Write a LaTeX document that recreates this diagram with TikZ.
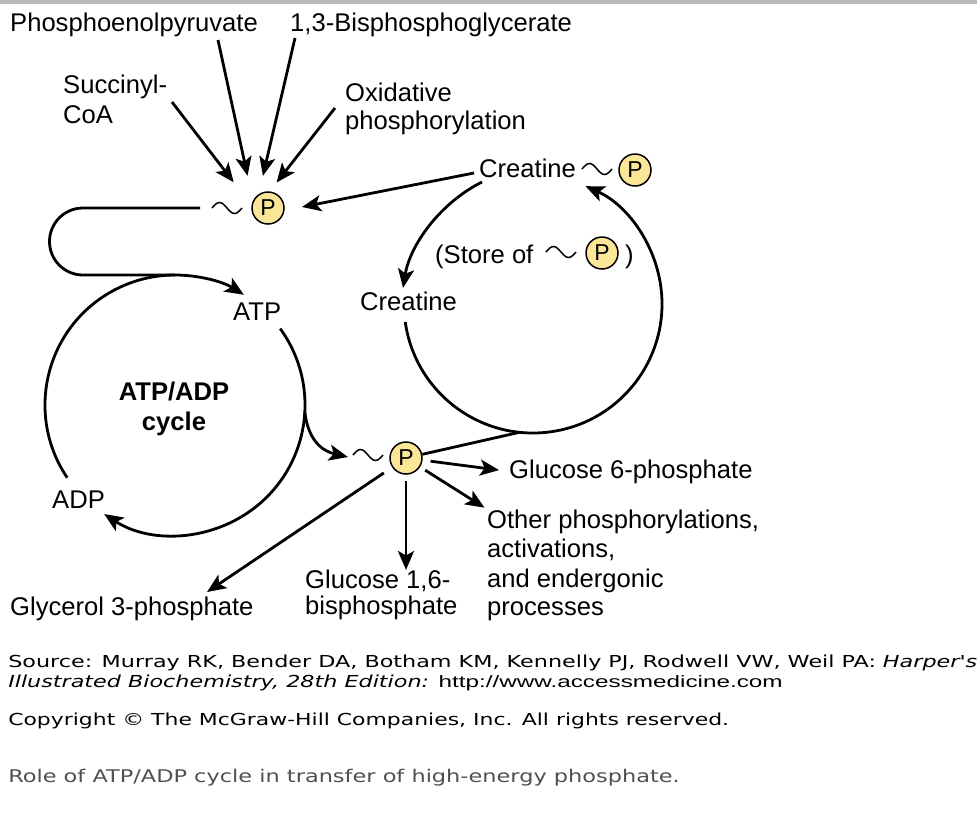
\documentclass[tikz,border=0pt]{standalone}
\usepackage{fontspec}
\setmainfont{Liberation Sans}
\newfontfamily\vfont{DejaVu Sans}
\usetikzlibrary{arrows.meta,calc}
\definecolor{pyel}{RGB}{250,230,150}
\definecolor{capgray}{RGB}{80,80,80}
\begin{document}
\begin{tikzpicture}[x=1pt,y=-1pt,
  lbl/.style={font=\fontsize{25.6}{30}\selectfont, inner sep=0pt, anchor=base west},
  lblc/.style={font=\fontsize{25.6}{30}\selectfont\bfseries, inner sep=0pt, anchor=base},
  ln/.style={line width=2.8pt},
  arr/.style={ln, -{Stealth[length=19pt,width=16pt,inset=4.5pt]}},
  pc/.style={circle, draw, line width=1.5pt, fill=pyel, minimum size=32pt, inner sep=0pt, font=\fontsize{23}{23}\selectfont},
  tld/.pic={\draw[line width=1.5pt] (-15,0) sin (-7.5,-5.5) cos (0,0) sin (7.5,5.5) cos (15,0);
            \coordinate (w) at (-15,0); \coordinate (e) at (15,0);},
  foot/.style={font=\vfont\fontsize{16.5}{18}\selectfont, inner sep=0pt, anchor=base west, xscale=1.35}
]
\useasboundingbox (0,0) rectangle (977,815);
\fill[gray!55] (0,0) rectangle (977,4);

% ---------------- labels ----------------
\node[lbl] (pep) at (10,31) {Phosphoenolpyruvate};
\node[lbl] (bpg) at (290,31) {1,3-Bisphosphoglycerate};
\node[lbl] (suc1) at (63,93) {Succinyl-};
\node[lbl] (suc2) at (63,123) {CoA};
\node[lbl] (ox1) at (345,101) {Oxidative};
\node[lbl] (ox2) at (345,129) {phosphorylation};

% top ~P
\pic (t1) at (227,208) {tld};
\node[pc] (P1) at (268,208) {P};
\coordinate (hub1) at (255,210);

% creatine ~ P
\node[lbl] (cr1) at (479,177) {Creatine};
\pic (t2) at (597,169) {tld};
\node[pc] (P2) at (635,170) {P};

% store of ~P
\node[lbl] (st) at (435,263) {(Store of};
\pic (t3) at (561,252) {tld};
\node[pc] (P4) at (602,253) {P};
\node[lbl] (stc) at (625,263) {)};

\node[lbl] (cr2) at (360,310) {Creatine};

% ATP / ADP
\node[lbl] (atp) at (233,320) {ATP};
\node[lbl] (adp) at (52,508) {ADP};
\node[lblc] (cyc1) at (174,400) {ATP/ADP};
\node[lblc] (cyc2) at (174,430) {cycle};

% lower ~P
\pic (t4) at (368,455) {tld};
\node[pc] (P3) at (406,458) {P};

\node[lbl] (g6p) at (509,478) {Glucose 6-phosphate};
\node[lbl] (oth1) at (487,528) {Other phosphorylations,};
\node[lbl] (oth2) at (487,557) {activations,};
\node[lbl] (oth3) at (487,587) {and endergonic};
\node[lbl] (oth4) at (487,615) {processes};
\node[lbl] (g16a) at (305,588) {Glucose 1,6-};
\node[lbl] (g16b) at (305,614) {bisphosphate};
\node[lbl] (gly) at (10,615) {Glycerol 3-phosphate};

% ---------------- arrows into top ~P ----------------
\coordinate (pepT) at (218,40);
\coordinate (bpgT) at (295,38);
\coordinate (sucT) at (172,102);
\coordinate (oxT) at (335,108);
\draw[arr, shorten >=35pt] (pepT) -- (hub1);
\draw[arr, shorten >=35pt] (bpgT) -- (hub1);
\draw[arr, shorten >=35pt] (sucT) -- (hub1);
\draw[arr, shorten >=35pt] (oxT) -- (hub1);

% creatine~P -> top ~P
\coordinate (crT) at (474,173);
\coordinate (p1tip) at (302,207);
\draw[arr] (crT) -- (p1tip);

% creatine~P -> creatine
\coordinate (crT2) at (482,182);
\coordinate (cr2tip) at (403,288);
\draw[arr] (crT2) .. controls (440,203) and (410,245) .. (cr2tip);

% creatine cycle circle
\coordinate (cc) at (533,304);
\draw[arr] (cc) ++(172:129) arc[start angle=172, end angle=-66, radius=129];
\coordinate (cbot) at ($(cc)+(96:129)$);

% ATP/ADP cycle
\coordinate (ac) at (175,405);
\draw[ln] (ac) ++(146:130) arc[start angle=146, end angle=270, radius=130];
\draw[arr, shorten <=12pt] (t1w) -- (83,208) arc[start angle=270, end angle=90, radius=33.5]
      -- (175,275) arc[start angle=270, end angle=302, radius=130];
\draw[arr] (ac) ++(-36:130) arc[start angle=-36, end angle=123, radius=130];
\coordinate (acr) at ($(ac)+(3:130)$);
\draw[arr] (acr) .. controls (308,440) and (322,451) .. ([xshift=-5pt,yshift=-2pt]t4w);

% lower ~P to creatine circle
\draw[ln] (P3) -- (cbot);

% arrows out of lower ~P
\coordinate (g16tip) at (406,570);
\coordinate (glytip) at (207,592);
\draw[arr, shorten <=8pt, shorten >=10pt] (P3) -- (g6p.west);
\draw[arr, shorten <=6pt, shorten >=3pt] (P3) -- (oth1.north west);
\draw[arr, shorten <=6pt] (P3) -- (g16tip);
\draw[arr, shorten <=10pt] (P3) -- (glytip);

% ---------------- footer ----------------
\node[foot] (src1) at (8,667) {Source: Murray RK, Bender DA, Botham KM, Kennelly PJ, Rodwell VW, Weil PA: \textit{Harper's}};
\node[foot] (src2) at (8,687) {\textit{Illustrated Biochemistry, 28th Edition:} \scalebox{1.09}[1]{\fontspec{Liberation Sans}http://www.accessmedicine.com}};
\node[foot, xscale=0.984] (copy) at (8,725) {Copyright © The McGraw-Hill Companies, Inc. All rights reserved.};
\node[foot, text=capgray, font=\vfont\fontsize{17.5}{20}\selectfont, xscale=0.95] (role) at (8,782) {Role of ATP/ADP cycle in transfer of high-energy phosphate.};
\end{tikzpicture}
\end{document}
